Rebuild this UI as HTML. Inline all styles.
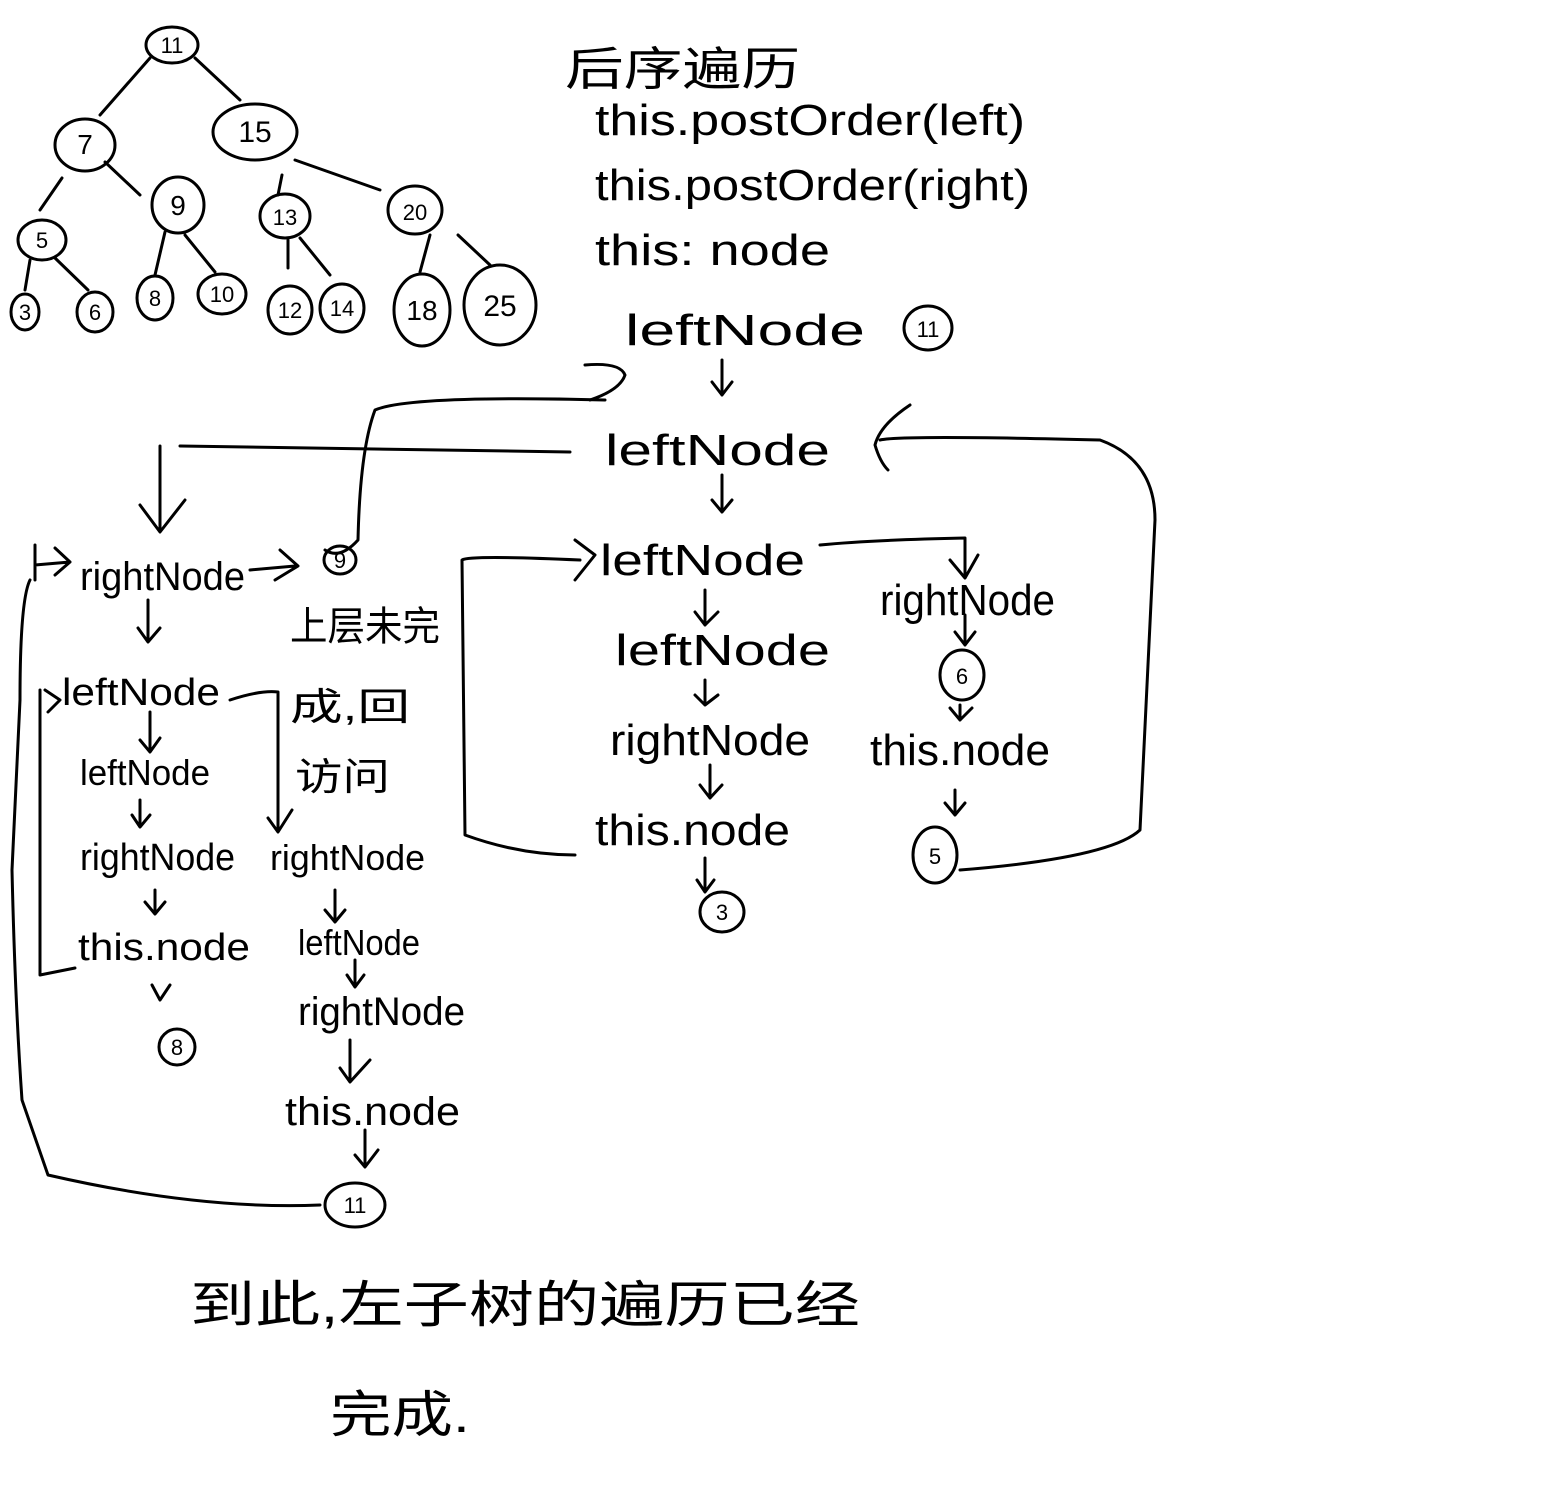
<!DOCTYPE html>
<html><head><meta charset="utf-8"><style>
html,body{margin:0;padding:0;background:#fff}
svg{display:block}
text{font-family:"Liberation Sans","Noto Sans CJK SC",sans-serif;fill:#000}
</style></head><body>
<svg width="1546" height="1504" viewBox="0 0 1546 1504" xmlns="http://www.w3.org/2000/svg">
<g fill="none" stroke="#000" stroke-width="3" stroke-linecap="round" stroke-linejoin="round">
<ellipse cx="172" cy="45" rx="26" ry="18"/>
<ellipse cx="85" cy="145" rx="30" ry="26"/>
<ellipse cx="255" cy="132" rx="42" ry="28"/>
<ellipse cx="178" cy="205" rx="26" ry="28"/>
<ellipse cx="285" cy="216" rx="25" ry="22"/>
<ellipse cx="415" cy="210" rx="27" ry="24"/>
<ellipse cx="42" cy="240" rx="24" ry="20"/>
<ellipse cx="25" cy="312" rx="14" ry="18"/>
<ellipse cx="95" cy="312" rx="18" ry="20"/>
<ellipse cx="155" cy="298" rx="18" ry="22"/>
<ellipse cx="222" cy="294" rx="24" ry="20"/>
<ellipse cx="290" cy="310" rx="22" ry="24"/>
<ellipse cx="342" cy="308" rx="22" ry="24"/>
<ellipse cx="422" cy="310" rx="28" ry="36"/>
<ellipse cx="500" cy="305" rx="36" ry="40"/>
<path d="M150 58 L100 115"/><path d="M195 58 L240 100"/>
<path d="M105 162 L140 195"/><path d="M62 178 L40 210"/>
<path d="M295 160 L380 190"/><path d="M282 175 L278 195"/>
<path d="M30 260 L25 290"/><path d="M55 258 L88 290"/>
<path d="M165 232 L155 275"/><path d="M185 235 L215 272"/>
<path d="M288 240 L288 268"/><path d="M300 238 L330 275"/>
<path d="M430 235 L420 272"/><path d="M458 235 L490 265"/>
<ellipse cx="928" cy="328" rx="24" ry="22"/>
<path d="M722 360 L722 395 M712 382 L722 395 L732 382"/>
<path d="M585 365 Q620 362 625 375 Q620 390 590 400"/>
<path d="M605 400 Q410 395 375 410 Q360 450 358 540 Q340 560 325 550"/>
<ellipse cx="340" cy="560" rx="16" ry="14"/>
<path d="M722 475 L722 512 M712 500 L722 512 L732 500"/>
<path d="M570 452 L180 446 M160 446 L160 530 M140 505 L160 532 L185 500"/>
<path d="M910 405 Q880 425 875 445 Q880 462 888 470 M880 440 Q900 435 1100 440 Q1155 460 1155 520 L1140 830 Q1110 858 960 870"/>
<ellipse cx="935" cy="855" rx="22" ry="28"/>
<path d="M575 855 Q520 855 465 835 L462 560 Q470 555 580 560 M575 540 L595 555 L575 580"/>
<path d="M820 545 Q870 540 965 538 L965 575 M950 560 L965 578 L978 555"/>
<path d="M705 590 L705 625 M695 612 L705 625 L718 612"/>
<path d="M705 680 L705 705 M695 695 L705 705 L718 695"/>
<path d="M710 765 L710 798 M700 785 L710 798 L722 785"/>
<path d="M705 858 L705 890 M697 880 L705 892 L714 880"/>
<ellipse cx="722" cy="912" rx="22" ry="20"/>
<path d="M965 615 L965 645 M955 632 L965 645 L975 632"/>
<ellipse cx="962" cy="675" rx="22" ry="25"/>
<path d="M960 705 L960 720 M950 708 L960 720 L972 708"/>
<path d="M955 790 L955 815 M945 803 L955 815 L965 803"/>
<path d="M35 545 L35 580 M35 565 L70 562 M55 548 L70 562 L55 575"/>
<path d="M250 570 L295 566 M280 550 L298 566 L275 580"/>
<path d="M30 580 Q20 600 20 700 L12 870 Q15 1000 22 1100 L48 1175 Q200 1210 320 1205"/>
<ellipse cx="355" cy="1205" rx="30" ry="22"/>
<path d="M148 600 L148 640 M138 628 L148 642 L160 628"/>
<path d="M45 690 L60 700 L48 712"/>
<path d="M40 690 L40 975 L75 968"/>
<path d="M230 700 Q260 690 278 692 L278 830 M268 818 L278 832 L292 810"/>
<path d="M150 712 L150 750 M140 740 L150 752 L160 738"/>
<path d="M140 800 L140 825 M132 815 L140 827 L150 815"/>
<path d="M155 890 L155 912 M145 902 L155 914 L165 902"/>
<path d="M152 985 L160 1000 L170 985"/>
<ellipse cx="177" cy="1047" rx="18" ry="18"/>
<path d="M335 890 L335 920 M325 910 L335 922 L345 910"/>
<path d="M355 960 L355 985 M347 975 L355 987 L364 975"/>
<path d="M350 1040 L350 1080 M340 1068 L350 1082 L370 1060"/>
<path d="M365 1130 L365 1165 M355 1155 L365 1167 L378 1150"/>
</g>
<g font-size="44" lengthAdjust="spacingAndGlyphs">
<text x="565" y="85" font-size="46" textLength="235" lengthAdjust="spacingAndGlyphs">后序遍历</text>
<text x="595" y="135" textLength="430" lengthAdjust="spacingAndGlyphs">this.postOrder(left)</text>
<text x="595" y="200" textLength="435" lengthAdjust="spacingAndGlyphs">this.postOrder(right)</text>
<text x="595" y="265" textLength="235" lengthAdjust="spacingAndGlyphs">this: node</text>
<text x="625" y="345" textLength="240" lengthAdjust="spacingAndGlyphs">leftNode</text>
<text x="605" y="465" textLength="225" lengthAdjust="spacingAndGlyphs">leftNode</text>
<text x="600" y="575" textLength="205" lengthAdjust="spacingAndGlyphs">leftNode</text>
<text x="615" y="665" textLength="215" lengthAdjust="spacingAndGlyphs">leftNode</text>
<text x="610" y="755" textLength="200" lengthAdjust="spacingAndGlyphs">rightNode</text>
<text x="595" y="845" textLength="195" lengthAdjust="spacingAndGlyphs">this.node</text>
<text x="880" y="615" textLength="175" lengthAdjust="spacingAndGlyphs">rightNode</text>
<text x="870" y="765" textLength="180" lengthAdjust="spacingAndGlyphs">this.node</text>
<text x="80" y="590" font-size="40" textLength="165" lengthAdjust="spacingAndGlyphs">rightNode</text>
<text x="290" y="640" font-size="40" textLength="150" lengthAdjust="spacingAndGlyphs">上层未完</text>
<text x="290" y="720" font-size="38" textLength="120" lengthAdjust="spacingAndGlyphs">成,回</text>
<text x="295" y="790" font-size="38" textLength="95" lengthAdjust="spacingAndGlyphs">访问</text>
<text x="62" y="705" font-size="38" textLength="158" lengthAdjust="spacingAndGlyphs">leftNode</text>
<text x="80" y="785" font-size="36" textLength="130" lengthAdjust="spacingAndGlyphs">leftNode</text>
<text x="80" y="870" font-size="38" textLength="155" lengthAdjust="spacingAndGlyphs">rightNode</text>
<text x="78" y="960" font-size="38" textLength="172" lengthAdjust="spacingAndGlyphs">this.node</text>
<text x="270" y="870" font-size="36" textLength="155" lengthAdjust="spacingAndGlyphs">rightNode</text>
<text x="298" y="955" font-size="36" textLength="122" lengthAdjust="spacingAndGlyphs">leftNode</text>
<text x="298" y="1025" font-size="40" textLength="167" lengthAdjust="spacingAndGlyphs">rightNode</text>
<text x="285" y="1125" font-size="40" textLength="175" lengthAdjust="spacingAndGlyphs">this.node</text>
<text x="190" y="1322" font-size="50" textLength="670" lengthAdjust="spacingAndGlyphs">到此,左子树的遍历已经</text>
<text x="330" y="1432" font-size="50" textLength="140" lengthAdjust="spacingAndGlyphs">完成.</text>
</g>
<g font-size="22" text-anchor="middle">
<text x="172" y="53">11</text><text x="85" y="154" font-size="28">7</text><text x="255" y="142" font-size="30">15</text>
<text x="178" y="215" font-size="28">9</text><text x="285" y="225">13</text><text x="415" y="220">20</text>
<text x="42" y="248">5</text><text x="25" y="320">3</text><text x="95" y="320">6</text><text x="155" y="306">8</text>
<text x="222" y="302">10</text><text x="290" y="318">12</text><text x="342" y="316">14</text>
<text x="422" y="320" font-size="28">18</text><text x="500" y="316" font-size="30">25</text>
<text x="928" y="337">11</text><text x="340" y="568">9</text><text x="722" y="920">3</text>
<text x="962" y="684">6</text><text x="935" y="864">5</text><text x="177" y="1055">8</text><text x="355" y="1213">11</text>
</g>
</svg>
</body></html>
